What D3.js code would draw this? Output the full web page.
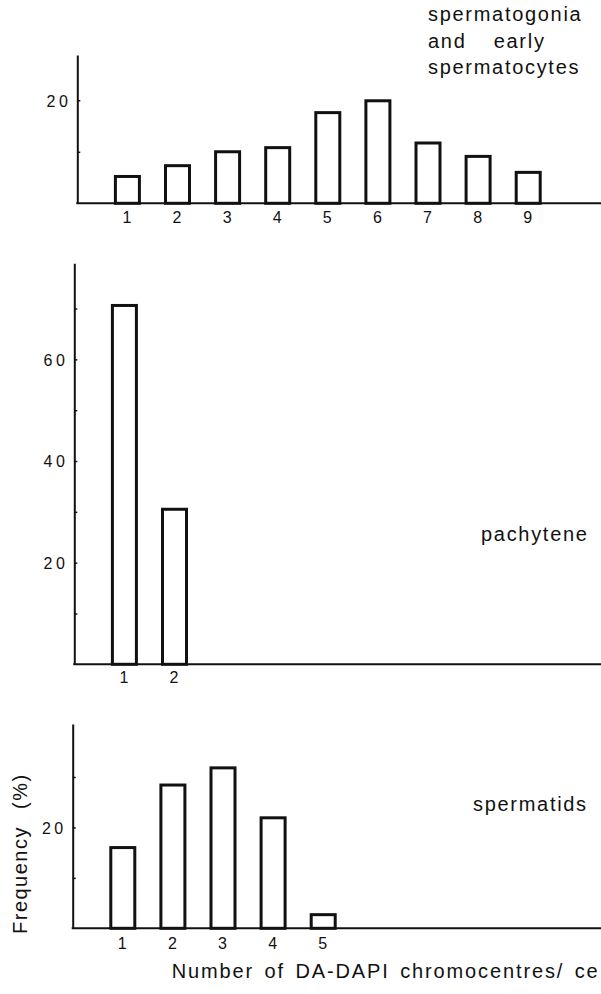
<!DOCTYPE html>
<html>
<head>
<meta charset="utf-8">
<script src="https://cdn.jsdelivr.net/npm/d3@7"></script>
<style>
body{margin:0;background:#fff}
svg{display:block;background:#fff}
text{font-family:"Liberation Sans",Arial,sans-serif;fill:#111}
</style>
</head>
<body>
<div id="chart"></div>
<script>
// spermatogonia and early spermatocytes
var catsSg=[1,2,3,4,5,6,7,8,9];
var valsSg=[5.5,7.6,10.3,11.1,17.9,20.2,12.0,9.4,6.3];
var ticksSg=[10,20];
var labelsSg=[20];
// pachytene
var catsPa=[1,2];
var valsPa=[70.9,30.8];
var ticksPa=[10,20,30,40,50,60,70];
var labelsPa=[20,40,60];
// spermatids
var catsSd=[1,2,3,4,5];
var valsSd=[16.3,28.7,32.1,22.2,3.0];
var ticksSd=[10,20,30];
var labelsSd=[20];

var width=601,height=994;
var ink='#111';

var svg=d3.select('#chart').append('svg')
    .attr('width',width)
    .attr('height',height);

function panel(cats,vals,ticks,labels,o){
    var g=svg.append('g');
    var x=d3.scaleLinear().domain([0,1]).range([o.left,o.left+50.1]);
    var y=d3.scaleLinear().domain([0,o.ymax]).range([o.base,o.top]);
    var bw=24,sw=3;

    //Y AXIS----------------------------------------------------------------
    var ya=g.append('g')
        .attr('transform','translate('+o.left+',0)')
        .call(d3.axisLeft(y)
            .tickValues(ticks)
            .tickSizeInner(-3)
            .tickSizeOuter(0)
            .tickPadding(6)
            .tickFormat(function(d){return labels.indexOf(d)>=0?d:'';}));
    ya.select('.domain').attr('stroke',ink).attr('stroke-width',2);
    ya.selectAll('.tick line').attr('stroke',ink).attr('stroke-width',1.5);
    ya.selectAll('.tick text')
        .attr('fill',ink)
        .style('font-family','"Liberation Sans",Arial,sans-serif')
        .style('font-size','16px')
        .style('letter-spacing','3.5px')
        .attr('dy','0.36em');

    //BASELINE----------------------------------------------------------------
    g.append('line')
        .attr('x1',o.left-1).attr('x2',width)
        .attr('y1',o.base).attr('y2',o.base)
        .attr('stroke',ink).attr('stroke-width',2);

    //X AXIS----------------------------------------------------------------
    var xa=g.append('g')
        .attr('transform','translate(0,'+o.base+')')
        .call(d3.axisBottom(x)
            .tickValues(cats)
            .tickSize(0)
            .tickPadding(o.pad)
            .tickFormat(d3.format('d')));
    xa.select('.domain').remove();
    xa.selectAll('.tick text')
        .attr('fill',ink)
        .attr('dx','-1')
        .style('font-family','"Liberation Sans",Arial,sans-serif')
        .style('font-size','16px');

    //BARS----------------------------------------------------------------
    g.selectAll('rect').data(vals)
        .enter().append('rect')
            .attr('x',function(d,i){return x(cats[i])-bw/2;})
            .attr('y',function(d){return y(d)+sw/2;})
            .attr('width',bw)
            .attr('height',function(d){return o.base-y(d)-sw/2;})
            .style('fill','#fff')
            .style('stroke',ink)
            .style('stroke-width',sw);

    //STAGE LABEL----------------------------------------------------------------
    o.name.forEach(function(line,i){
        g.append('text')
            .attr('x',o.nameX)
            .attr('y',o.nameY+i*26.5)
            .style('font-size','20px')
            .style('letter-spacing','1.7px')
            .style('word-spacing',line.indexOf(' ')>0?'20px':'0px')
            .text(line);
    });
}

panel(catsSg,valsSg,ticksSg,labelsSg,{
    left:77.3,base:203.3,top:55,ymax:28.8,pad:8,
    name:['spermatogonia','and early','spermatocytes'],nameX:428,nameY:21
});
panel(catsPa,valsPa,ticksPa,labelsPa,{
    left:74.3,base:664.3,top:263.3,ymax:78.9,pad:7,
    name:['pachytene'],nameX:481,nameY:541
});
panel(catsSd,valsSd,ticksSd,labelsSd,{
    left:72.7,base:928.3,top:724,ymax:40.5,pad:9,
    name:['spermatids'],nameX:473,nameY:811
});

//AXIS TITLES----------------------------------------------------------------
svg.append('text')
    .attr('transform','translate(27,934) rotate(-90)')
    .style('font-size','20px')
    .style('letter-spacing','1.5px')
    .style('word-spacing','10px')
    .text('Frequency (%)');

svg.append('text')
    .attr('x',171.7)
    .attr('y',978.3)
    .attr('textLength',426)
    .attr('lengthAdjust','spacing')
    .style('font-size','20px')
    .style('word-spacing','3px')
    .text('Number of DA-DAPI chromocentres/ ce');
</script>
</body>
</html>
